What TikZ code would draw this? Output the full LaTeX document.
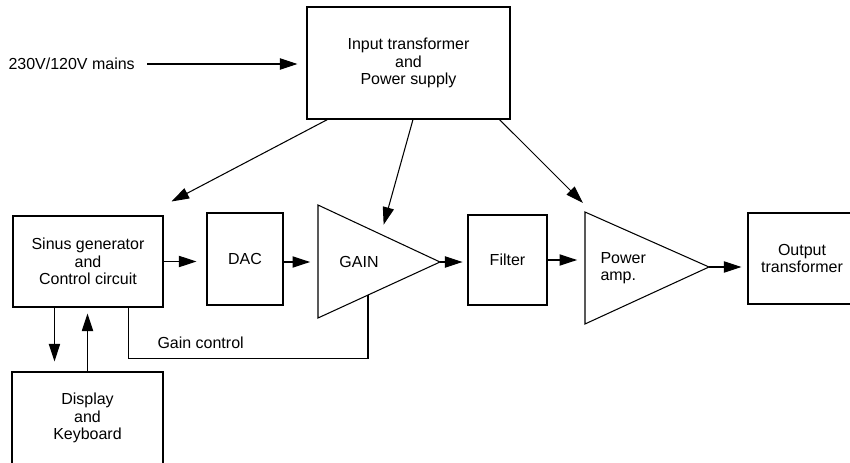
\documentclass[tikz,border=0pt]{standalone}
\usepackage{fontspec}
\setmainfont{Liberation Sans}
\usetikzlibrary{arrows.meta, calc}

\begin{document}
\begin{tikzpicture}[x=0.02cm, y=-0.02cm, line width=0.6pt,
  >={Triangle[length=10pt, width=6.4pt]},
  font=\fontsize{9.1}{10}\selectfont,
  box/.style={draw, rectangle, align=center, inner sep=0pt},
  lbl/.style={inner sep=0pt, align=center}]
  \useasboundingbox (0,0) rectangle (850,463);
  % blocks
  \node[box, minimum width=4.06cm, minimum height=2.24cm] (ps) at (408.5,63) {Input transformer\\and\\Power supply};
  \node[lbl, anchor=west] (mains) at (8,64) {230V/120V mains};
  \node[box, minimum width=3cm, minimum height=1.82cm] (sinus) at (88,261.5) {Sinus generator\\and\\Control circuit};
  \node[box, minimum width=1.52cm, minimum height=1.84cm] (dac) at (245,259) {DAC};
  \node[box, minimum width=1.58cm, minimum height=1.8cm] (filter) at (507.5,260) {Filter};
  \node[box, minimum width=2.16cm, minimum height=1.82cm] (output) at (802,258.5) {Output\\transformer};
  \node[box, minimum width=3.02cm, minimum height=1.84cm] (display) at (87.5,418) {Display\\and\\Keyboard};
  % amplifiers
  \coordinate (gainT) at (318,205);
  \coordinate (gainB) at (318,318);
  \coordinate (gainA) at (440,262);
  \draw (gainT) -- (gainA) -- (gainB) -- cycle;
  \node[lbl] (gain) at (359,262) {GAIN};
  \coordinate (powT) at (585,212);
  \coordinate (powB) at (585,324);
  \coordinate (powA) at (709,267);
  \draw (powT) -- (powA) -- (powB) -- cycle;
  \node[lbl, anchor=west, align=left] (power) at (600,268) {Power\\amp.};
  % mains and supply
  \draw[->, shorten <=6.8pt, shorten >=5.1pt] (mains.east) -- (mains.east -| ps.west);
  \draw[->] ([xshift=0.42cm]ps.south west) -- ([shift={(8,-14)}]sinus.north east);
  \draw[->, shorten >=5.7pt] ([xshift=0.09cm]ps.south) -- ($(gainT)!0.516!(gainA)$);
  \draw[->] ([xshift=-0.22cm]ps.south east) -- ([shift={(-2,-9)}]powT);
  % signal path
  \draw[->, shorten >=5.7pt] (sinus.east) -- (dac.west |- sinus.east);
  \draw[->, shorten >=4.5pt] (dac.east |- gainA) -- (gainT |- gainA);
  \draw[->, shorten >=2.8pt] (gainA) -- (filter.west |- gainA);
  \draw[->, shorten >=4.5pt] (filter.east) -- (powT |- filter.east);
  \draw[->, shorten >=3.4pt] (powA) -- (output.west |- powA);
  % keyboard
  \draw[->, shorten >=5.7pt] ([xshift=0.84cm]sinus.south west) -- ([xshift=0.84cm]sinus.south west |- display.north);
  \draw[->, shorten >=3.4pt] (display.north) -- (display.north |- sinus.south);
  % gain control
  \draw ([xshift=-0.7cm]sinus.south east) -- ++(0,51) -| ($(gainB)!0.41!(gainA)$);
  \node[lbl, anchor=west] (gainctl) at (157,343) {Gain control};
\end{tikzpicture}
\end{document}
